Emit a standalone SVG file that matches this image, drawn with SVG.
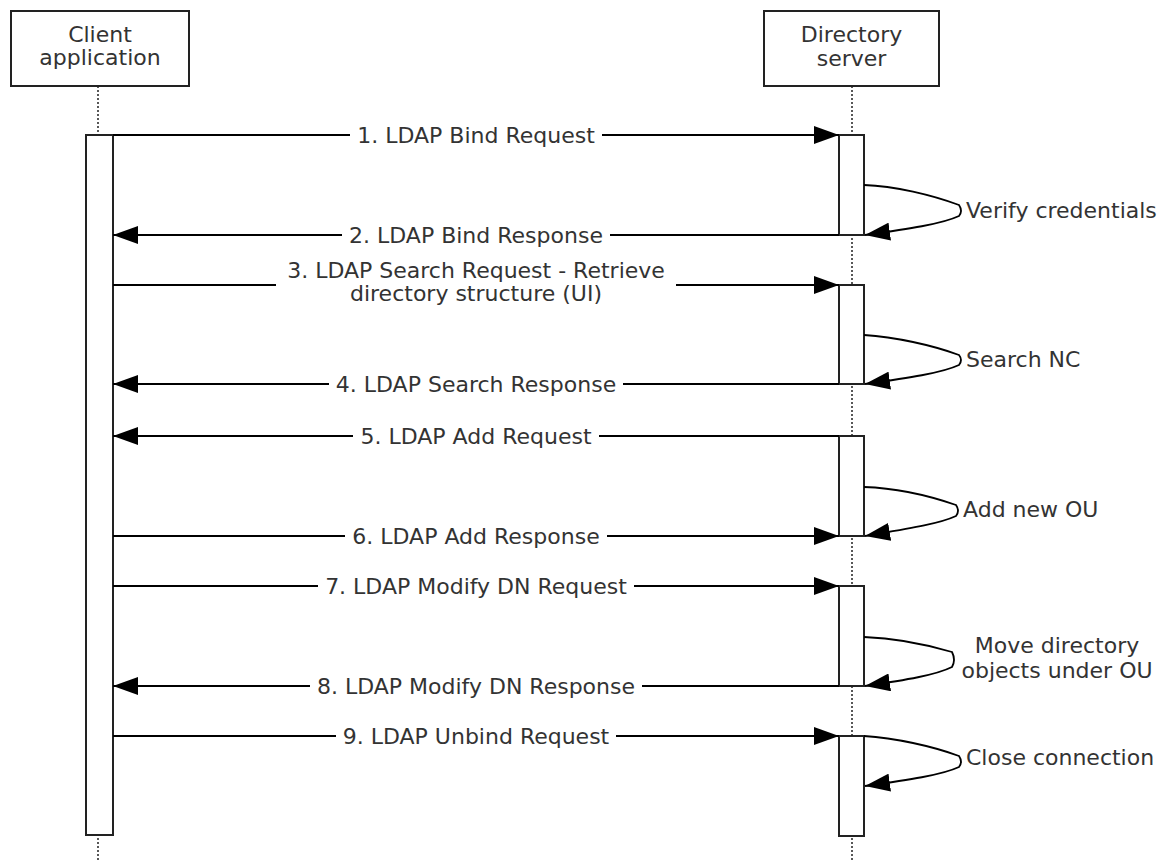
<svg xmlns="http://www.w3.org/2000/svg" width="1164" height="861" viewBox="0 0 1164 861">
<style>
  .box { fill: #fff; stroke: #222; stroke-width: 2; }
  .bar { fill: #fff; stroke: #222; stroke-width: 2; }
  .life { stroke: #222; stroke-width: 1.5; stroke-dasharray: 2 2; fill: none; }
  .msg { stroke: #000; stroke-width: 1.8; fill: none; }
  .self { stroke: #000; stroke-width: 1.8; fill: none; }
  text { font-family: "DejaVu Sans", Verdana, sans-serif; font-size: 22px; fill: #333; }
  .c { text-anchor: middle; }
</style>
<defs>
  <marker id="ah" markerUnits="userSpaceOnUse" markerWidth="26" markerHeight="18" viewBox="0 0 26 18" refX="25" refY="9" orient="auto">
    <path d="M0,0 L25,9 L0,18 z" fill="#000"/>
  </marker>
</defs>
<rect width="1164" height="861" fill="#fff"/>

<g id="client">
  <line class="life" x1="98" y1="86" x2="98" y2="861"/>
  <rect class="box" x="11" y="11" width="178" height="75"/>
  <text class="c" x="100" y="42">Client</text>
  <text class="c" x="100" y="65">application</text>
  <rect class="bar" x="86" y="135" width="27" height="700"/>
</g>

<g id="server">
  <line class="life" x1="852" y1="86" x2="852" y2="861"/>
  <rect class="box" x="764" y="11" width="175" height="75"/>
  <text class="c" x="851.5" y="42">Directory</text>
  <text class="c" x="851.5" y="66">server</text>
  <rect class="bar" x="839" y="135" width="25" height="100"/>
  <rect class="bar" x="839" y="285" width="25" height="99"/>
  <rect class="bar" x="839" y="436" width="25" height="100"/>
  <rect class="bar" x="839" y="586" width="25" height="100"/>
  <rect class="bar" x="839" y="736" width="25" height="100"/>
</g>

<g id="connectors">
  <!-- 1 -->
  <line class="msg" x1="113" y1="135" x2="350" y2="135"/>
  <line class="msg" x1="602" y1="135" x2="839" y2="135" marker-end="url(#ah)"/>
  <text class="c" x="476" y="143">1. LDAP Bind Request</text>
  <!-- 2 -->
  <line class="msg" x1="839" y1="235" x2="610" y2="235"/>
  <line class="msg" x1="342" y1="235" x2="113" y2="235" marker-end="url(#ah)"/>
  <text class="c" x="476" y="243">2. LDAP Bind Response</text>
  <!-- 3 -->
  <line class="msg" x1="113" y1="285" x2="276" y2="285"/>
  <line class="msg" x1="676" y1="285" x2="839" y2="285" marker-end="url(#ah)"/>
  <text class="c" x="476" y="278">3. LDAP Search Request - Retrieve</text>
  <text class="c" x="476" y="301">directory structure (UI)</text>
  <!-- 4 -->
  <line class="msg" x1="839" y1="384" x2="623" y2="384"/>
  <line class="msg" x1="329" y1="384" x2="113" y2="384" marker-end="url(#ah)"/>
  <text class="c" x="476" y="392">4. LDAP Search Response</text>
  <!-- 5 -->
  <line class="msg" x1="839" y1="436" x2="599" y2="436"/>
  <line class="msg" x1="353" y1="436" x2="113" y2="436" marker-end="url(#ah)"/>
  <text class="c" x="476" y="444">5. LDAP Add Request</text>
  <!-- 6 -->
  <line class="msg" x1="113" y1="536" x2="345" y2="536"/>
  <line class="msg" x1="607" y1="536" x2="839" y2="536" marker-end="url(#ah)"/>
  <text class="c" x="476" y="544">6. LDAP Add Response</text>
  <!-- 7 -->
  <line class="msg" x1="113" y1="586" x2="318" y2="586"/>
  <line class="msg" x1="634" y1="586" x2="839" y2="586" marker-end="url(#ah)"/>
  <text class="c" x="476" y="594">7. LDAP Modify DN Request</text>
  <!-- 8 -->
  <line class="msg" x1="839" y1="686" x2="642" y2="686"/>
  <line class="msg" x1="310" y1="686" x2="113" y2="686" marker-end="url(#ah)"/>
  <text class="c" x="476" y="694">8. LDAP Modify DN Response</text>
  <!-- 9 -->
  <line class="msg" x1="113" y1="736" x2="336" y2="736"/>
  <line class="msg" x1="616" y1="736" x2="839" y2="736" marker-end="url(#ah)"/>
  <text class="c" x="476" y="744">9. LDAP Unbind Request</text>

  <!-- self calls -->
  <path class="self" d="M864,185 C895,186 932,195 959,205 Q963,211 959,216 C942,224 908,229 865,235" marker-end="url(#ah)"/>
  <text x="966" y="218">Verify credentials</text>

  <path class="self" d="M864,335 C895,337 932,345 959,355 Q963,360 959,365 C942,373 908,378 865,384" marker-end="url(#ah)"/>
  <text x="966" y="367">Search NC</text>

  <path class="self" d="M864,487 C895,488 930,496 956,505 Q960,511 956,516 C939,524 906,529 865,536" marker-end="url(#ah)"/>
  <text x="963" y="517">Add new OU</text>

  <path class="self" d="M864,637 C895,638 928,645 952,652 Q956,660 952,667 C936,675 906,680 865,686" marker-end="url(#ah)"/>
  <text class="c" x="1057" y="653">Move directory</text>
  <text class="c" x="1057" y="678">objects under OU</text>

  <path class="self" d="M864,736 C895,738 932,746 959,756 Q963,762 959,767 C942,775 908,780 865,786" marker-end="url(#ah)"/>
  <text x="966" y="765">Close connection</text>
</g>
</svg>
